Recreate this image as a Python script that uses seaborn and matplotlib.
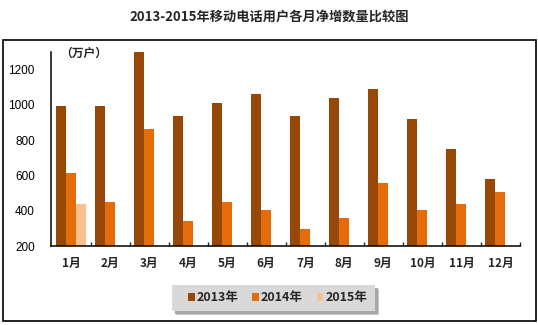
import matplotlib
matplotlib.use("Agg")
import matplotlib.pyplot as plt
from matplotlib.patches import Rectangle
from matplotlib.ticker import FixedLocator
import seaborn as sns
import pandas as pd

# Monthly net additions of mobile phone users (10k households)
months = ["1月", "2月", "3月", "4月", "5月", "6月",
          "7月", "8月", "9月", "10月", "11月", "12月"]
net_2013 = [995, 995, 1298, 936, 1009, 1060, 936, 1037, 1088, 919, 749, 579]
net_2014 = [613, 449, 862, 341, 449, 404, 296, 358, 557, 404, 438, 506]
net_2015 = [438]
years = ["2013年", "2014年", "2015年"]
yticks = [200, 400, 600, 800, 1000, 1200]

rows = []
for yr, vals in zip(years, [net_2013, net_2014, net_2015]):
    for m, v in zip(months, vals):
        rows.append({"月份": m, "年份": yr, "净增": v})
df = pd.DataFrame(rows)

sns.set_theme(style="white")
plt.rcParams["font.family"] = ["Liberation Sans", "Noto Sans CJK SC", "DejaVu Sans"]
cjk = ["Noto Sans CJK SC", "DejaVu Sans"]

palette = {"2013年": "#974706", "2014年": "#E46C0A", "2015年": "#FAC090"}

W, H = 538, 325
fig = plt.figure(figsize=(W / 100, H / 100), dpi=100)
ax = fig.add_axes([0.0957, 0.243, 0.8708, 0.597])

sns.barplot(data=df, x="月份", y="净增", hue="年份", order=months,
            hue_order=years, palette=palette, width=0.77, saturation=1,
            gap=0, ax=ax, legend=True, linewidth=0)

ax.set_ylim(200, 1300)
ax.set_xlim(-0.5, len(months) - 0.5)
ax.set_xlabel("")
ax.set_ylabel("")
ax.set_yticks(yticks)
ax.tick_params(axis="y", direction="in", length=3, width=1, pad=12,
               labelsize=8.5, colors="black")
ax.tick_params(axis="x", which="major", length=0, pad=8)
ax.xaxis.set_minor_locator(FixedLocator([i + 0.5 for i in range(len(months))]))
ax.tick_params(axis="x", which="minor", direction="in", length=3, width=1,
               bottom=True)
for lab in ax.get_xticklabels():
    lab.set_fontfamily(cjk)
    lab.set_fontweight("bold")
    lab.set_fontsize(8.5)

for side in ["top", "right"]:
    ax.spines[side].set_visible(False)
for side in ["left", "bottom"]:
    ax.spines[side].set_color("black")
    ax.spines[side].set_linewidth(1.1)

ax.text(60 / W, 1 - 53 / H, "（万户）", transform=fig.transFigure,
        ha="left", va="center", fontsize=8.5, fontweight="bold", family=cjk)

# Legend panel: grey box with a soft drop shadow
def fig_rect(x0, y0, x1, y1, **kw):
    return Rectangle((x0 / W, 1 - y1 / H), (x1 - x0) / W, (y1 - y0) / H,
                     transform=fig.transFigure, **kw)

for off, col in [(4, "#c8c8c8"), (3, "#a8a8a8")]:
    fig.patches.append(fig_rect(172 + off, 285 + off, 375 + off, 311 + off,
                                facecolor=col, edgecolor="none", zorder=1))
fig.patches.append(fig_rect(172, 285, 375, 311, facecolor="#d9d9d9",
                            edgecolor="none", zorder=2))

handles, labels = ax.get_legend_handles_labels()
ax.legend_.remove()
leg = fig.legend(handles, labels, loc="center",
                 bbox_to_anchor=(277.5 / W, 1 - 298 / H),
                 ncol=3, frameon=False,
                 handlelength=0.55, handleheight=0.55, handletextpad=0.15,
                 columnspacing=1.1, borderpad=0.2,
                 prop={"family": cjk, "weight": "bold", "size": 9})
leg.set_zorder(5)

fig.text(0.5, 1 - 17 / H, "2013-2015年移动电话用户各月净增数量比较图",
         ha="center", va="center", fontsize=9.5, fontweight="bold", family=cjk)

fig.patches.append(fig_rect(3, 39.5, 536, 320.5, fill=False,
                            edgecolor="black", linewidth=1.2, zorder=0))

fig.savefig("out.png", dpi=100, facecolor="white")
